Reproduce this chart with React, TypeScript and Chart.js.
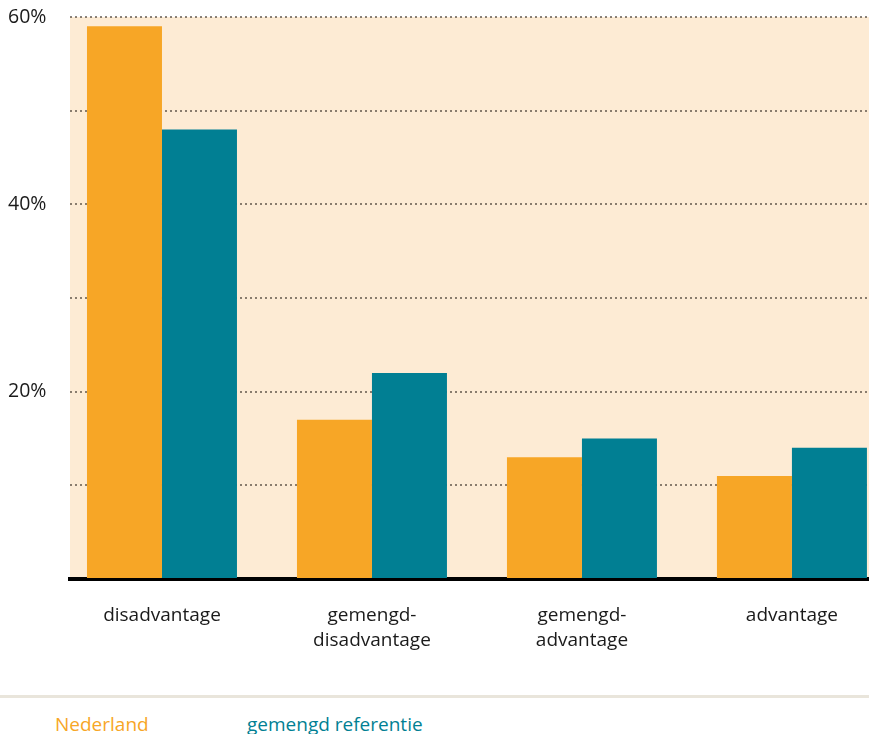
import React, { useEffect, useRef } from "react";
import { Chart, registerables } from "chart.js";

Chart.register(...registerables);

const categories: string[][] = [
  ["disadvantage"],
  ["gemengd-", "disadvantage"],
  ["gemengd-", "advantage"],
  ["advantage"],
];
const nederland = [59, 17, 13, 11];
const gemengdReferentie = [48, 22, 15, 14];
const seriesNames = ["Nederland", "gemengd referentie"];
const labelledYTicks = [20, 40, 60];

const ORANGE = "#F7A626";
const TEAL = "#017F93";
const PLOT_BG = "#FDEBD4";
const FONT = "'Open Sans', sans-serif";

const plotBackground = {
  id: "plotBackground",
  beforeDraw(chart: any) {
    const { ctx, chartArea } = chart;
    ctx.save();
    ctx.fillStyle = PLOT_BG;
    ctx.fillRect(chartArea.left, chartArea.top, chartArea.right - chartArea.left, chartArea.bottom - chartArea.top);
    ctx.restore();
  },
};

export default function App() {
  const canvasRef = useRef<HTMLCanvasElement | null>(null);

  useEffect(() => {
    if (!canvasRef.current) return;
    const chart = new Chart(canvasRef.current, {
      type: "bar",
      data: {
        datasets: [
          {
            label: seriesNames[0],
            data: nederland.map((y, i) => ({ x: i, y })),
            backgroundColor: ORANGE,
            borderWidth: 0,
          },
          {
            label: seriesNames[1],
            data: gemengdReferentie.map((y, i) => ({ x: i, y })),
            backgroundColor: TEAL,
            borderWidth: 0,
          },
        ],
      },
      options: {
        animation: false,
        responsive: true,
        maintainAspectRatio: false,
        events: [],
        barPercentage: 1,
        categoryPercentage: 150 / 210,
        layout: { padding: { top: 17, left: 8, right: 0, bottom: 0 } },
        plugins: {
          legend: { display: false },
          tooltip: { enabled: false },
        },
        scales: {
          x: {
            type: "linear",
            offset: false,
            min: -0.438,
            max: 3.367,
            z: 1,
            grid: { display: false, drawTicks: false, offset: false },
            border: { display: true, color: "#000000", width: 4 },
            ticks: {
              stepSize: 1,
              includeBounds: false,
              autoSkip: false,
              maxRotation: 0,
              padding: 24,
              color: "#1a1a1a",
              font: { family: FONT, size: 19, lineHeight: "25px" },
              callback: (v: any) => categories[Math.round(Number(v))] ?? "",
            },
            afterFit: (scale: any) => {
              scale.height = 100;
            },
          },
          y: {
            min: 0,
            max: 60,
            z: 1,
            grid: {
              drawTicks: false,
              lineWidth: 2,
              color: (ctx: any) => (ctx.tick && ctx.tick.value === 0 ? "rgba(0,0,0,0)" : "rgba(60,50,40,0.6)"),
            },
            border: { display: false, dash: [2, 3] },
            ticks: {
              stepSize: 10,
              padding: 0,
              crossAlign: "far",
              color: "#1a1a1a",
              font: { family: FONT, size: 19.5 },
              callback: (v: any) => (labelledYTicks.includes(Number(v)) ? `${v}%` : ""),
            },
            afterFit: (scale: any) => {
              scale.width = 62;
            },
          },
        },
      } as any,
      plugins: [plotBackground],
    });
    return () => chart.destroy();
  }, []);

  return (
    <div
      style={{
        position: "absolute",
        left: 0,
        top: 0,
        width: 869,
        height: 734,
        overflow: "hidden",
        background: "#ffffff",
        fontFamily: FONT,
      }}
    >
      <div style={{ position: "absolute", left: 0, top: 0, width: 869, height: 679 }}>
        <canvas ref={canvasRef} />
      </div>
      <div
        style={{
          position: "absolute",
          left: 0,
          top: 695,
          width: 869,
          height: 0,
          borderTop: "3px solid #E9E5DB",
        }}
      />
      <span
        style={{
          position: "absolute",
          left: 55,
          top: 711,
          fontSize: 19,
          lineHeight: "26px",
          color: ORANGE,
          whiteSpace: "nowrap",
        }}
      >
        {seriesNames[0]}
      </span>
      <span
        style={{
          position: "absolute",
          left: 247,
          top: 711,
          fontSize: 19,
          lineHeight: "26px",
          color: TEAL,
          whiteSpace: "nowrap",
        }}
      >
        {seriesNames[1]}
      </span>
    </div>
  );
}
